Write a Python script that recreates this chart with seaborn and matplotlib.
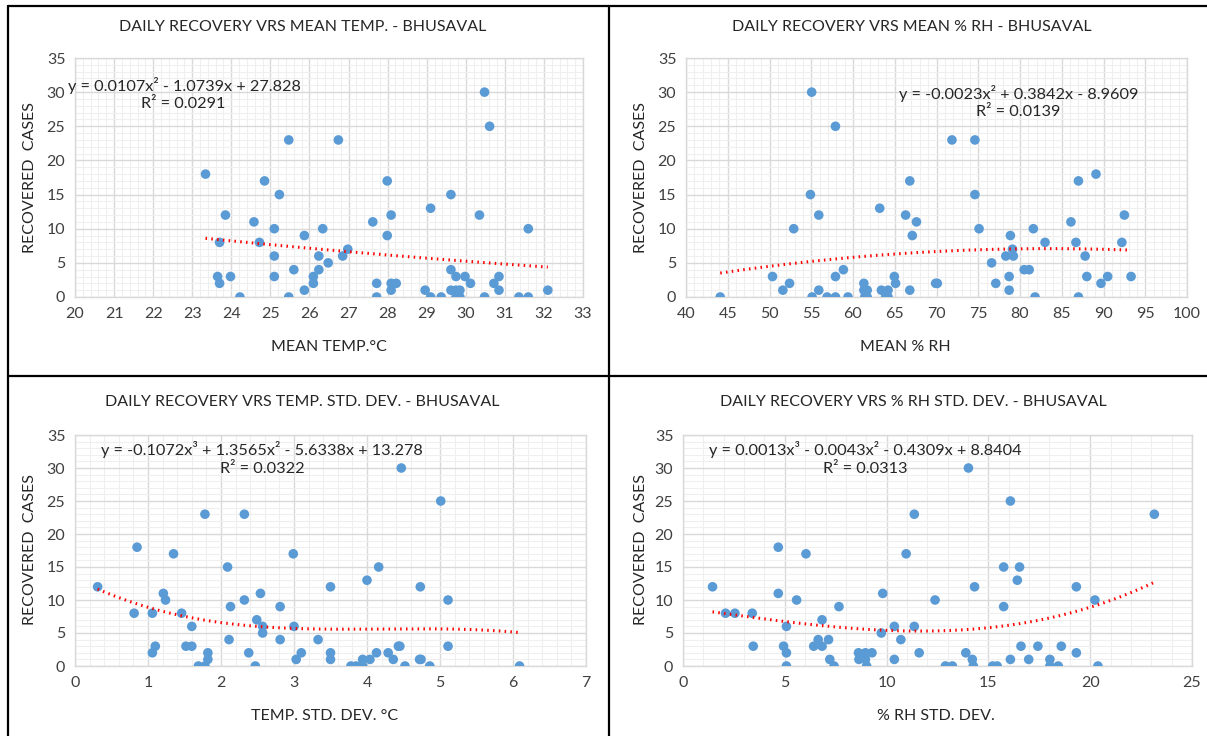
import numpy as np
import matplotlib
matplotlib.use("Agg")
import matplotlib.pyplot as plt
from matplotlib.ticker import MultipleLocator
from matplotlib.lines import Line2D
import seaborn as sns

# ---------------- data ----------------
recovered_temp = [18, 3, 8, 2, 12, 3, 0, 11, 8, 17, 10, 6, 3, 15, 23, 0, 4, 9, 1, 3, 2, 6, 4, 10, 5,
                  23, 6, 7, 11, 2, 0, 9, 17, 12, 2, 1, 2, 1, 13, 0, 0, 15, 4, 1, 3, 1, 0, 1, 0, 3, 2,
                  12, 30, 0, 25, 2, 3, 1, 0, 10, 0, 1]
mean_temp = [23.34, 23.65, 23.7, 23.7, 23.85, 23.98, 24.22, 24.58, 24.72, 24.85, 25.1, 25.1, 25.1, 25.23,
             25.47, 25.47, 25.6, 25.87, 25.87, 26.1, 26.1, 26.24, 26.24, 26.34, 26.48, 26.74, 26.85, 26.98,
             27.62, 27.72, 27.72, 27.99, 27.99, 28.09, 28.09, 28.09, 28.22, 28.96, 29.1, 29.1, 29.37, 29.62,
             29.62, 29.62, 29.75, 29.75, 29.75, 29.85, 29.85, 29.98, 30.12, 30.35, 30.48, 30.48, 30.61, 30.72,
             30.85, 30.85, 31.36, 31.6, 31.6, 32.1]

mean_rh = [44.1, 50.36, 51.6, 52.4, 52.9, 54.9, 55.05, 55.1, 55.9, 55.9, 56.9, 57.9, 57.9, 57.9, 58.85, 59.4,
           61.3, 61.3, 61.4, 61.7, 61.7, 63.2, 63.4, 63.9, 64.2, 64.2, 64.95, 65.1, 66.3, 66.8, 66.8, 67.1,
           67.6, 69.9, 70.1, 71.85, 74.6, 74.6, 75.1, 76.6, 77.1, 78.3, 78.7, 78.7, 78.85, 79.1, 79.2, 80.5,
           81.1, 81.6, 81.8, 83.0, 86.1, 86.7, 87.0, 87.0, 87.8, 88.0, 89.1, 89.7, 90.5, 92.2, 92.5, 93.3]
recovered_rh = [0, 3, 1, 2, 10, 15, 30, 0, 12, 1, 0, 25, 3, 0, 4, 0, 2, 1, 0, 1, 0, 13, 1, 0, 1, 0, 3, 2,
                12, 17, 1, 9, 11, 2, 2, 23, 23, 15, 10, 5, 2, 6, 3, 1, 9, 7, 6, 4, 4, 10, 0, 8, 11, 8,
                17, 0, 6, 3, 18, 2, 3, 8, 12, 3]

temp_sd = [0.31, 0.81, 0.85, 1.06, 1.06, 1.1, 1.21, 1.24, 1.35, 1.46, 1.52, 1.6, 1.6, 1.69, 1.78, 1.78,
           1.82, 1.82, 2.09, 2.11, 2.13, 2.32, 2.32, 2.38, 2.47, 2.49, 2.54, 2.57, 2.57, 2.81, 2.81, 2.99,
           3.0, 3.03, 3.1, 3.33, 3.5, 3.5, 3.5, 3.78, 3.85, 3.94, 3.94, 4.0, 4.04, 4.13, 4.16, 4.29, 4.36,
           4.43, 4.45, 4.47, 4.52, 4.72, 4.73, 4.74, 4.86, 5.01, 5.11, 5.11, 6.09]
recovered_tsd = [12, 8, 18, 8, 2, 3, 11, 10, 17, 8, 3, 6, 3, 0, 23, 0, 2, 1, 15, 4, 9, 23, 10, 2, 0, 7,
                 11, 6, 5, 9, 4, 17, 6, 1, 2, 4, 12, 2, 1, 0, 0, 0, 1, 13, 1, 2, 15, 2, 1, 3, 3, 30, 0,
                 1, 12, 1, 0, 25, 10, 3, 0]

rh_sd = [1.45, 2.09, 2.55, 3.4, 3.45, 4.68, 4.68, 4.94, 5.08, 5.08, 5.08, 5.58, 6.04, 6.42, 6.64, 6.83,
         6.83, 7.15, 7.21, 7.42, 7.66, 8.62, 8.64, 8.96, 8.96, 9.02, 9.28, 9.74, 9.81, 10.38, 10.38, 10.7,
         10.96, 11.36, 11.36, 11.6, 12.38, 12.89, 13.23, 13.89, 14.02, 14.21, 14.26, 14.32, 15.21, 15.43,
         15.75, 15.75, 16.08, 16.08, 16.42, 16.53, 16.6, 16.98, 17.43, 18.02, 18.02, 18.43, 18.58, 19.32,
         19.32, 20.23, 20.38, 23.15]
recovered_rsd = [12, 8, 8, 8, 3, 18, 11, 3, 6, 2, 0, 10, 17, 3, 4, 7, 3, 4, 1, 0, 9, 2, 1, 2, 1, 0, 2, 5,
                 11, 6, 1, 4, 17, 23, 6, 2, 10, 0, 0, 2, 30, 1, 0, 12, 0, 0, 15, 9, 25, 1, 13, 15, 3, 1,
                 3, 1, 0, 0, 3, 12, 2, 10, 0, 23]

# trendline coefficients as printed on the chart (highest power first)
coef_temp = [0.0107, -1.0739, 27.828]
coef_rh = [-0.0023, 0.3842, -8.9609]
coef_tsd = [-0.1072, 1.3565, -5.6338, 13.278]
coef_rsd = [0.0013, -0.0043, -0.4309, 8.8404]

titles = ["DAILY RECOVERY VRS MEAN TEMP. - BHUSAVAL",
          "DAILY RECOVERY VRS MEAN % RH - BHUSAVAL",
          "DAILY RECOVERY VRS TEMP. STD. DEV. - BHUSAVAL",
          "DAILY RECOVERY VRS % RH STD. DEV. - BHUSAVAL"]
xlabels = ["MEAN TEMP.\u00b0C", "MEAN % RH", "TEMP. STD. DEV. \u00b0C", "% RH STD. DEV."]
ylabel = "RECOVERED  CASES"
equations = ["y = 0.0107x\u00b2 - 1.0739x + 27.828",
             "y = -0.0023x\u00b2 + 0.3842x - 8.9609",
             "y = -0.1072x\u00b3 + 1.3565x\u00b2 - 5.6338x + 13.278",
             "y = 0.0013x\u00b3 - 0.0043x\u00b2 - 0.4309x + 8.8404"]
r2_texts = ["R\u00b2 = 0.0291", "R\u00b2 = 0.0139", "R\u00b2 = 0.0322", "R\u00b2 = 0.0313"]

# ---------------- style ----------------
sns.set_theme(style="white")
plt.rcParams['font.family'] = ['Lato', 'DejaVu Sans']

W, H = 1207, 736
fig = plt.figure(figsize=(W / 100, H / 100), dpi=100)
fig.patch.set_facecolor("white")

def fx(px):
    return px / W

def fy(py):
    return 1 - py / H

panels = [
    dict(x=mean_temp, y=recovered_temp, coef=coef_temp, xlim=(20, 33), xmaj=1, box=(75, 583, 58, 297),
         title=(303, 27), xl=(329, 347), yl=(30, 178), eq=(184, 85), r2=(183, 104)),
    dict(x=mean_rh, y=recovered_rh, coef=coef_rh, xlim=(40, 100), xmaj=5, box=(686, 1187, 58, 297),
         title=(912, 27), xl=(905, 347), yl=(641, 178), eq=(1019, 93), r2=(1018, 112)),
    dict(x=temp_sd, y=recovered_tsd, coef=coef_tsd, xlim=(0, 7), xmaj=1, box=(75, 586, 435, 666),
         title=(302, 402), xl=(325, 716), yl=(30, 550), eq=(262, 449), r2=(262, 469)),
    dict(x=rh_sd, y=recovered_rsd, coef=coef_rsd, xlim=(0, 25), xmaj=5, box=(683, 1192, 435, 666),
         title=(913, 402), xl=(936, 716), yl=(641, 550), eq=(865, 449), r2=(865, 469)),
]

for i, p in enumerate(panels):
    l, r, t, b = p["box"]
    ax = fig.add_axes([fx(l), fy(b), fx(r) - fx(l), fy(t) - fy(b)])
    ax.set_xlim(*p["xlim"])
    ax.set_ylim(0, 35)
    ax.xaxis.set_major_locator(MultipleLocator(p["xmaj"]))
    ax.xaxis.set_minor_locator(MultipleLocator(p["xmaj"] / 5))
    ax.yaxis.set_major_locator(MultipleLocator(5))
    ax.yaxis.set_minor_locator(MultipleLocator(1))
    ax.grid(which="major", color="#D9D9D9", linewidth=1.0)
    ax.grid(which="minor", color="#EFEFEF", linewidth=0.8)
    ax.set_axisbelow(True)
    for s in ax.spines.values():
        s.set_color("#D9D9D9")
        s.set_linewidth(1.0)
    ax.tick_params(which="both", length=0, labelsize=11.5, colors="#404040", pad=7)
    for lab in ax.get_xticklabels() + ax.get_yticklabels():
        lab.set_color("#404040")

    sns.scatterplot(x=p["x"], y=p["y"], ax=ax, color="#5B9BD5", s=48, edgecolor="none", zorder=3)
    xs = np.linspace(min(p["x"]), max(p["x"]), 200)
    ax.plot(xs, np.polyval(p["coef"], xs), color="#FF0000", linestyle=(0, (0.5, 1.4)),
            linewidth=2.2, dash_capstyle="butt", zorder=4)
    ax.set_xlabel("")
    ax.set_ylabel("")

    fig.text(fx(p["title"][0]), fy(p["title"][1]), titles[i], ha="center", va="center",
             fontsize=11.5, color="#262626")
    fig.text(fx(p["xl"][0]), fy(p["xl"][1]), xlabels[i], ha="center", va="center",
             fontsize=11.5, color="#262626")
    fig.text(fx(p["yl"][0]), fy(p["yl"][1]), ylabel, ha="center", va="center", rotation=90,
             fontsize=11.5, color="#262626")
    fig.text(fx(p["eq"][0]), fy(p["eq"][1]), equations[i], ha="center", va="center",
             fontsize=11.7, color="#262626")
    fig.text(fx(p["r2"][0]), fy(p["r2"][1]), r2_texts[i], ha="center", va="center",
             fontsize=11.7, color="#262626")

# table-like black borders
border_kw = dict(color="black", linewidth=1.6, transform=fig.transFigure)
fig.add_artist(Line2D([fx(8), fx(8)], [fy(6), 0], **border_kw))
fig.add_artist(Line2D([fx(609), fx(609)], [fy(6), 0], **border_kw))
fig.add_artist(Line2D([fx(8), 1], [fy(6), fy(6)], **border_kw))
fig.add_artist(Line2D([fx(8), 1], [fy(376), fy(376)], **border_kw))

fig.savefig("out.png", dpi=100, facecolor="white")
